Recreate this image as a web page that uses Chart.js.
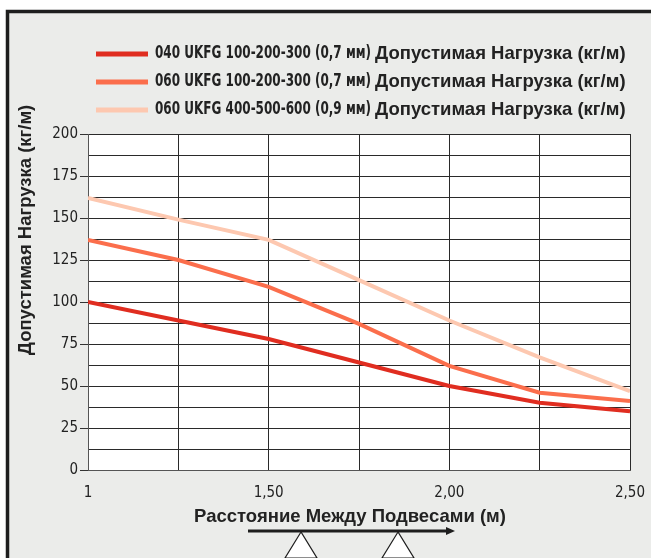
<!DOCTYPE html>
<html>
<head>
<meta charset="utf-8">
<script src="https://cdn.jsdelivr.net/npm/chart.js@4"></script>
<style>
  html, body { margin: 0; padding: 0; background: #fff; }
  #wrap { width: 651px; height: 558px; position: relative; }
</style>
</head>
<body>
<div id="wrap"><canvas id="loadChart" width="651" height="558"></canvas></div>
<script>
// пролёт между подвесами, м
const spans = [1, 1.25, 1.5, 1.75, 2.0, 2.25, 2.5];

const load040_100 = [100, 89, 78, 64, 50, 40, 35];
const load060_100 = [137, 125, 109, 87, 62, 46, 41];
const load060_400 = [162, 149, 137, 113, 89, 67, 47];

const seriesCodes = [
  '040 UKFG 100-200-300 (0,7 мм)',
  '060 UKFG 100-200-300 (0,7 мм)',
  '060 UKFG 400-500-600 (0,9 мм)'
];
const seriesTail = 'Допустимая Нагрузка (кг/м)';
const yTitle = 'Допустимая Нагрузка (кг/м)';
const xTitle = 'Расстояние Между Подвесами (м)';

const colors = ['#e02d20', '#fb6e4c', '#fdc8b0'];
const narrow = '"DejaVu Sans Condensed", "Liberation Sans Narrow", sans-serif';
const bold = '"Liberation Sans", Arial, sans-serif';

function pts(vals) {
  return vals.map((v, i) => ({ x: spans[i], y: v }));
}

// рамка, фон, легенда, подписи осей, стрелка с опорами
const decor = {
  id: 'decor',
  beforeDraw(chart) {
    const c = chart.ctx, a = chart.chartArea;
    c.save();
    c.fillStyle = '#fff';
    c.fillRect(0, 0, chart.width, chart.height);
    c.fillStyle = '#ebecea';
    c.fillRect(6, 10, chart.width, chart.height);
    c.strokeStyle = '#1e1e1e';
    c.lineWidth = 3.5;
    c.strokeRect(7.5, 11.5, chart.width + 10, chart.height + 10);
    c.fillStyle = '#fff';
    c.fillRect(a.left, a.top, a.right - a.left, a.bottom - a.top);
    c.restore();
  },
  afterDraw(chart) {
    const c = chart.ctx;
    c.save();
    // легенда
    const rows = [54, 82, 110];
    rows.forEach((y, i) => {
      c.fillStyle = colors[i];
      c.fillRect(96, y - 2.5, 52, 5);
      c.fillStyle = '#222';
      c.textBaseline = 'middle';
      c.textAlign = 'left';
      // узкая часть подписи, сжатая по ширине
      c.font = 'bold 17px ' + narrow;
      const w = c.measureText(seriesCodes[i]).width;
      const k = 216 / w;
      c.setTransform(k, 0, 0, 1, 155, y);
      c.fillText(seriesCodes[i], 0, 0);
      c.setTransform(1, 0, 0, 1, 0, 0);
      c.font = 'bold 18.5px ' + bold;
      c.fillText(seriesTail, 375, y);
    });
    // подпись оси Y
    c.translate(26, 230);
    c.rotate(-Math.PI / 2);
    c.textAlign = 'center';
    c.textBaseline = 'middle';
    c.font = 'bold 18.5px ' + bold;
    c.fillText(yTitle, 0, 0);
    c.setTransform(1, 0, 0, 1, 0, 0);
    // подпись оси X
    c.fillText(xTitle, 350, 517);
    // стрелка
    c.fillStyle = '#1e1e1e';
    c.fillRect(248, 529.5, 200, 3);
    c.beginPath();
    c.moveTo(455, 531);
    c.lineTo(446, 527);
    c.lineTo(446, 535);
    c.closePath();
    c.fill();
    // опоры
    [301, 398].forEach(cx => {
      c.beginPath();
      c.moveTo(cx, 532);
      c.lineTo(cx - 16, 558);
      c.lineTo(cx + 16, 558);
      c.closePath();
      c.fillStyle = '#fff';
      c.fill();
      c.strokeStyle = '#1e1e1e';
      c.lineWidth = 1.2;
      c.stroke();
    });
    c.restore();
  }
};

const ctx = document.getElementById('loadChart').getContext('2d');
const loadChart = new Chart(ctx, {
  type: 'line',
  data: {
    datasets: [
      { label: seriesCodes[0], data: pts(load040_100), borderColor: colors[0] },
      { label: seriesCodes[1], data: pts(load060_100), borderColor: colors[1] },
      { label: seriesCodes[2], data: pts(load060_400), borderColor: colors[2] }
    ].map(d => Object.assign(d, { borderWidth: 4, pointRadius: 0, tension: 0, fill: false }))
  },
  options: {
    responsive: false,
    animation: false,
    layout: { padding: { left: 14, top: 134, right: 21, bottom: 28 } },
    plugins: { legend: { display: false }, tooltip: { enabled: false } },
    scales: {
      x: {
        type: 'linear',
        min: 1, max: 2.5,
        afterFit(s) { s.height = 60; s.paddingLeft = 0; s.paddingRight = 0; },
        grid: { color: '#2a2a2a', lineWidth: 1, drawTicks: false },
        border: { color: '#555', width: 1 },
        ticks: {
          stepSize: 0.25,
          padding: 14,
          color: '#222',
          font: { family: narrow, size: 15 },
          callback: v => (Math.round(v * 100) % 50 !== 0) ? '' : (v === 1 ? '1' : v.toFixed(2).replace('.', ','))
        }
      },
      y: {
        min: 0, max: 200,
        afterFit(s) { s.width = 74; },
        grid: {
          color: '#2a2a2a', lineWidth: 1, tickLength: 8,
          tickColor: c => (c.tick && c.tick.value % 25 === 0) ? '#333' : 'rgba(0,0,0,0)'
        },
        border: { color: '#555', width: 1 },
        ticks: {
          stepSize: 12.5,
          padding: 2,
          color: '#222',
          font: { family: narrow, size: 15 },
          callback: v => (v % 25 === 0) ? String(v) : ''
        }
      }
    }
  },
  plugins: [decor]
});
</script>
</body>
</html>
